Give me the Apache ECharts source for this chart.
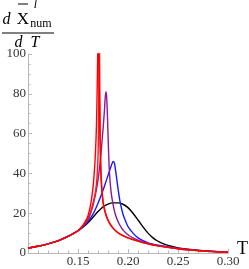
<!DOCTYPE html>
<html>
<head>
<meta charset="utf-8">
<script src="https://cdn.jsdelivr.net/npm/echarts@6/dist/echarts.min.js"></script>
<style>
html,body{margin:0;padding:0;background:#fff;}
#c{width:249px;height:269px;}
</style>
</head>
<body>
<div id="c"></div>
<script>
const xTicks = [0.10, 0.15, 0.20, 0.25, 0.30];
const yTicks = [0, 20, 40, 60, 80, 100];
const base = [[0.10,2.4],[0.11,3.4],[0.12,4.6],[0.13,6.1],[0.14,8.3],[0.145,9.7],[0.15,11.2]];
const black = [[0.155,13.0],[0.16,15.2],[0.165,18.0],[0.17,20.8],[0.175,23.2],[0.18,24.6],[0.185,25.2],[0.19,25.2],[0.195,24.5],[0.20,22.8],[0.205,20.0],[0.21,16.6],[0.215,13.1],[0.22,10.0],[0.225,7.6],[0.23,5.9],[0.235,4.7],[0.24,3.8],[0.25,2.6],[0.26,1.9],[0.27,1.4],[0.28,1.0],[0.29,0.7],[0.30,0.45]];
const blue = [[0.155,13.3],[0.16,15.8],[0.165,19.5],[0.17,25.0],[0.175,31.5],[0.178,36],[0.181,40.5],[0.183,43.5],[0.1845,45.5],[0.1855,46],[0.1865,45],[0.188,40],[0.19,32.5],[0.192,26],[0.195,19.5],[0.198,15.5],[0.20,13.3],[0.205,10],[0.21,7.6],[0.215,6.2],[0.22,5.1],[0.23,3.9],[0.24,3.0],[0.25,2.3],[0.26,1.75],[0.27,1.3],[0.28,0.95],[0.29,0.65],[0.30,0.45]];
const purple = [[0.155,13.6],[0.16,16.8],[0.163,20.5],[0.166,26],[0.169,33.5],[0.171,40.5],[0.173,50],[0.175,62],[0.1765,72],[0.1772,78],[0.178,81],[0.1787,78],[0.1795,68],[0.1805,52],[0.1815,40],[0.183,31],[0.185,24.5],[0.187,20],[0.19,15.8],[0.193,13],[0.196,11],[0.20,9.2],[0.205,7.6],[0.21,6.5],[0.215,5.6],[0.22,4.8],[0.23,3.75],[0.24,2.9],[0.25,2.2],[0.26,1.7],[0.27,1.25],[0.28,0.9],[0.29,0.62],[0.30,0.42]];
const redTail = [[0.181,15.5],[0.185,12.5],[0.19,10.2],[0.195,8.7],[0.20,7.6],[0.21,6.0],[0.22,4.6],[0.23,3.6],[0.24,2.8],[0.25,2.15],[0.26,1.6],[0.27,1.2],[0.28,0.85],[0.29,0.6],[0.30,0.4]];
const redA = [[0.155,14.0],[0.158,16.5],[0.16,18.8],[0.162,22.8],[0.1635,27],[0.165,33],[0.166,38.5],[0.167,46],[0.168,57],[0.1685,65],[0.169,77],[0.1695,92],[0.170,108],[0.1705,112],[0.171,98],[0.1715,75],[0.172,57],[0.1727,42],[0.1735,33],[0.1745,27.5],[0.1757,23.5],[0.178,19]];
const redB = [[0.155,13.8],[0.16,17.5],[0.163,21.5],[0.1655,26],[0.1677,31.5],[0.169,38],[0.170,48],[0.1705,62],[0.1708,80],[0.171,100],[0.1712,115],[0.1715,105],[0.1718,85],[0.1722,62],[0.1728,45],[0.1735,36],[0.1745,29],[0.1757,24],[0.178,19.2]];

const serif = '"Liberation Serif", "DejaVu Serif", serif';
function line(name, pts, color) {
  return {
    name: name, type: 'line', data: pts, showSymbol: false, symbol: 'none',
    smooth: 0.3, clip: true, lineStyle: {color: color, width: 1.4}, z: 2
  };
}
const chart = echarts.init(document.getElementById('c'), null, {renderer: 'canvas'});
const axisColor = '#b8b8b8';
chart.setOption({
  animation: false,
  backgroundColor: '#ffffff',
  grid: {left: 28, right: 21, top: 54, bottom: 16, containLabel: false},
  xAxis: {
    type: 'value', min: xTicks[0], max: xTicks[xTicks.length - 1], interval: 0.05,
    axisLine: {show: true, onZero: false, lineStyle: {color: axisColor, width: 1}},
    axisTick: {show: true, inside: true, length: 4, lineStyle: {color: axisColor}},
    minorTick: {show: true, splitNumber: 5, length: 2.5, lineStyle: {color: axisColor}},
    splitLine: {show: false},
    axisLabel: {
      color: '#333', fontFamily: serif, fontSize: 13, margin: 2,
      formatter: function (v) { return Math.abs(v - xTicks[0]) < 1e-9 ? '' : v.toFixed(2); }
    }
  },
  yAxis: {
    type: 'value', min: yTicks[0], max: yTicks[yTicks.length - 1], interval: 20,
    axisLine: {show: true, onZero: false, lineStyle: {color: axisColor, width: 1}},
    axisTick: {show: true, inside: true, length: 4, lineStyle: {color: axisColor}},
    minorTick: {show: true, splitNumber: 4, length: 2.5, lineStyle: {color: axisColor}},
    splitLine: {show: false},
    axisLabel: {color: '#333', fontFamily: serif, fontSize: 13, margin: 2}
  },
  series: [
    line('black', base.concat(black), '#000000'),
    line('blue', base.concat(blue), '#1a1aff'),
    line('purple', base.concat(purple), '#8a1a96'),
    line('redB', base.concat(redB, redTail), '#ff1a1a'),
    line('redA', base.concat(redA, redTail), '#ff0000')
  ],
  graphic: [
    {type: 'text', style: {text: 'd', x: 6.5, y: 20, align: 'center', verticalAlign: 'middle', font: 'italic 16px ' + serif, fill: '#000'}},
    {type: 'text', style: {text: 'X', x: 23, y: 19.5, align: 'center', verticalAlign: 'middle', font: '17px ' + serif, fill: '#000'}},
    {type: 'line', shape: {x1: 18, y1: 4, x2: 28, y2: 4}, style: {stroke: '#000', lineWidth: 1}},
    {type: 'text', style: {text: 'l', x: 35.5, y: 4.5, align: 'center', verticalAlign: 'middle', font: 'italic 12px ' + serif, fill: '#000'}},
    {type: 'text', style: {text: 'num', x: 41, y: 23.5, align: 'center', verticalAlign: 'middle', font: '12px ' + serif, fill: '#000'}},
    {type: 'line', shape: {x1: 2, y1: 33, x2: 54, y2: 33}, style: {stroke: '#000', lineWidth: 1}},
    {type: 'text', style: {text: 'd', x: 18.5, y: 43, align: 'center', verticalAlign: 'middle', font: 'italic 16px ' + serif, fill: '#000'}},
    {type: 'text', style: {text: 'T', x: 35, y: 43, align: 'center', verticalAlign: 'middle', font: 'italic 16px ' + serif, fill: '#000'}},
    {type: 'text', style: {text: 'T', x: 242.5, y: 249, align: 'center', verticalAlign: 'middle', font: '18px ' + serif, fill: '#000'}}
  ]
});
</script>
</body>
</html>
